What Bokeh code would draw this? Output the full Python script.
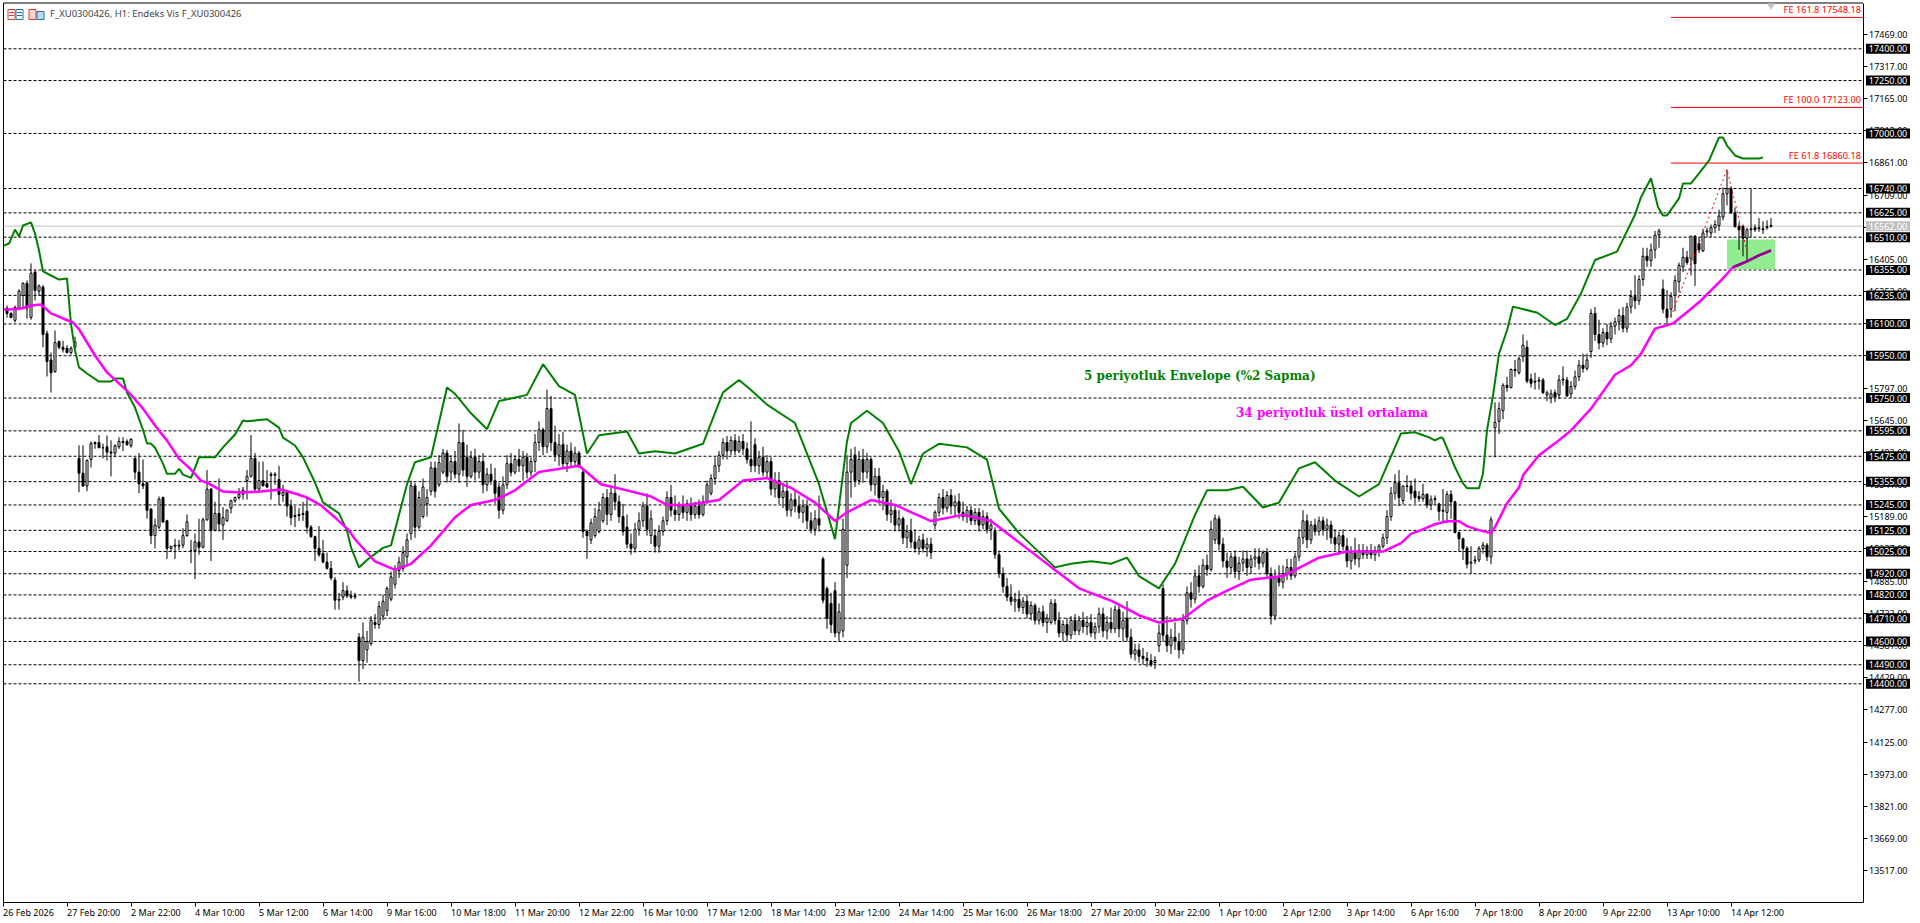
from bokeh.plotting import figure
from bokeh.embed import file_html
from bokeh.resources import INLINE
from bokeh.core.properties import value
from bokeh.models import FixedTicker, NumeralTickFormatter, Label, LabelSet, ColumnDataSource, Range1d, LinearAxis

tick_dates = ["26 Feb 2026","27 Feb 20:00","2 Mar 22:00","4 Mar 10:00","5 Mar 12:00","6 Mar 14:00","9 Mar 16:00","10 Mar 18:00","11 Mar 20:00","12 Mar 22:00","16 Mar 10:00","17 Mar 12:00","18 Mar 14:00","23 Mar 12:00","24 Mar 14:00","25 Mar 16:00","26 Mar 18:00","27 Mar 20:00","30 Mar 22:00","1 Apr 10:00","2 Apr 12:00","3 Apr 14:00","6 Apr 16:00","7 Apr 18:00","8 Apr 20:00","9 Apr 22:00","13 Apr 10:00","14 Apr 12:00"]
price_ticks = [17469,17317,17165,17013,16861,16709,16557,16405,16253,16101,15949,15797,15645,15493,15341,15189,15037,14885,14733,14581,14429,14277,14125,13973,13821,13669,13517]
levels = [17400,17250,17000,16740,16625,16510,16355,16235,16100,15950,15750,15595,15475,15355,15245,15125,15025,14920,14820,14710,14600,14490,14400]
fe_names = ["FE 161.8 17548.18","FE 100.0 17123.00","FE 61.8 16860.18"]
fe_prices = [17548.18,17123.0,16860.18]
current_price = 16562
zigzag_bar = [417,431,436]
zigzag_price = [16135,16830,16442]
zone_bars = [431,443]
zone_prices = [16358,16499]

# candles, one (open, high, low, close) per bar, from bar 1 on
bars_feb = [(16175,16187,16130,16150),(16150,16155,16130,16130),(16117,16187,16107,16178),(16175,16264,16165,16255),(16235,16296,16170,16292),(16292,16306,16125,16175),(16131,16386,16120,16340),(16345,16353,16211,16258),(16255,16287,16235,16280),(16275,16283,15990,16050),(16055,16069,15852,15923),(15930,15965,15776,15870),(15875,16069,15870,16012),(16017,16022,15980,15990),(15990,16020,15965,15980),(15985,16000,15960,15965),(15965,15995,15955,15985),(15990,16040,15985,16015)]
bars_mar_a = [(15465,15527,15305,15395),(15395,15527,15330,15335),(15335,15460,15310,15455),(15460,15545,15422,15535),(15535,15545,15510,15540),(15540,15575,15515,15515),(15515,15535,15465,15515),(15520,15573,15455,15495),(15495,15550,15380,15490),(15490,15530,15470,15525),(15520,15565,15510,15545),(15545,15565,15500,15540),(15545,15555,15525,15530),(15525,15560,15515,15555),(15465,15470,15365,15400),(15400,15490,15300,15345),(15345,15460,15320,15335),(15350,15355,15180,15220),(15225,15230,15060,15100),(15100,15180,15040,15150),(15140,15285,15130,15272),(15280,15285,15160,15165),(15170,15175,14990,15040),(15040,15050,15025,15050),(15050,15085,14990,15055),(15050,15080,15030,15055),(15055,15135,15040,15100),(15100,15200,15095,15165),(15030,15080,14970,15030),(15030,15110,14895,15070),(15070,15180,15010,15045),(15045,15185,15040,15175),(15175,15410,15170,15320),(15320,15325,14980,15125),(15125,15260,15120,15205),(15205,15370,15120,15155),(15150,15235,15080,15185),(15170,15225,15165,15220),(15230,15270,15205,15265),(15265,15285,15255,15280),(15280,15325,15270,15295),(15295,15330,15270,15315),(15360,15410,15270,15380),(15380,15575,15375,15465)]
bars_mar_b = [(15465,15490,15310,15320),(15320,15450,15310,15360),(15360,15450,15335,15335),(15345,15410,15325,15330),(15390,15400,15270,15385),(15385,15400,15340,15390),(15365,15430,15245,15295),(15290,15340,15260,15305),(15305,15310,15190,15240),(15240,15270,15150,15185),(15195,15240,15140,15190),(15195,15230,15170,15200),(15200,15260,15170,15205),(15215,15280,15110,15140),(15140,15150,15090,15095),(15095,15100,14980,15040),(15040,15145,15000,15010),(15015,15080,14970,14975),(14975,15020,14940,14945),(14945,14980,14890,14900),(14890,14905,14750,14795),(14795,14830,14750,14800),(14810,14880,14795,14840),(14840,14865,14805,14815),(14815,14840,14800,14810),(14810,14830,14800,14815),(14620,14640,14410,14510),(14510,14690,14470,14620),(14560,14650,14500,14600),(14590,14720,14580,14700),(14690,14730,14660,14680),(14680,14790,14660,14765),(14720,14820,14700,14790),(14745,14860,14720,14850),(14800,14930,14790,14905),(14870,14960,14850,14935),(14935,15000,14900,14975),(14945,15050,14930,15020),(15000,15110,14960,15080)]
bars_mar_c = [(15110,15360,15080,15335),(15335,15350,15090,15140),(15140,15310,15130,15280),(15190,15370,15180,15330),(15250,15320,15190,15280),(15310,15450,15290,15420),(15420,15450,15280,15310),(15340,15480,15330,15445),(15400,15510,15390,15490),(15490,15505,15350,15380),(15400,15480,15360,15450),(15450,15500,15370,15390),(15390,15630,15350,15540),(15540,15600,15380,15410),(15470,15530,15330,15380),(15380,15500,15370,15470),(15470,15510,15360,15400),(15400,15480,15370,15450),(15450,15490,15300,15340),(15340,15420,15310,15390),(15390,15440,15340,15360),(15360,15420,15250,15300),(15330,15350,15180,15220),(15220,15380,15200,15340),(15340,15480,15320,15440),(15440,15490,15380,15400),(15400,15480,15390,15460),(15460,15510,15400,15430),(15430,15500,15360,15470),(15470,15490,15370,15400),(15400,15470,15380,15450),(15450,15580,15400,15540),(15540,15640,15500,15600),(15600,15610,15480,15520),(15520,15790,15490,15700),(15700,15760,15500,15540),(15540,15620,15450,15480),(15480,15580,15430,15530),(15530,15590,15420,15440),(15440,15530,15400,15500),(15500,15540,15420,15450),(15450,15520,15430,15490),(15490,15500,15420,15430)]
bars_mar_d = [(15400,15410,15090,15120),(15120,15130,14990,15100),(15080,15180,15060,15160),(15100,15230,15090,15190),(15120,15260,15110,15220),(15170,15300,15160,15280),(15280,15320,15150,15200),(15200,15330,15170,15300),(15300,15390,15220,15260),(15260,15290,15160,15190),(15190,15250,15100,15120),(15140,15200,15040,15060),(15060,15110,15010,15040),(15040,15160,15020,15130),(15130,15210,15100,15170),(15170,15260,15140,15240),(15240,15300,15100,15130),(15100,15220,15060,15180),(15100,15130,15020,15050),(15050,15150,15020,15120),(15120,15190,15100,15170),(15170,15310,15150,15280),(15280,15340,15190,15220),(15220,15290,15170,15200),(15200,15260,15170,15240),(15240,15290,15180,15210),(15210,15270,15170,15250),(15250,15280,15170,15200),(15200,15260,15180,15240),(15240,15270,15180,15200),(15200,15290,15190,15260),(15260,15360,15250,15340),(15300,15390,15290,15370),(15370,15470,15340,15430),(15430,15500,15400,15480),(15480,15560,15460,15540),(15540,15570,15460,15500),(15500,15570,15480,15550),(15550,15580,15480,15500),(15500,15570,15490,15545),(15545,15580,15480,15510),(15510,15540,15440,15460)]
bars_mar_e = [(15460,15640,15400,15430),(15530,15560,15400,15430),(15430,15500,15390,15470),(15470,15520,15380,15400),(15400,15480,15370,15450),(15450,15470,15290,15320),(15320,15400,15280,15360),(15360,15400,15250,15280),(15280,15350,15230,15310),(15310,15360,15190,15220),(15220,15300,15190,15270),(15270,15310,15210,15240),(15240,15290,15180,15210),(15210,15270,15160,15240),(15240,15270,15130,15170),(15170,15210,15110,15130),(15130,15220,15100,15180),(15180,15290,15120,15150),(14990,15000,14780,14795),(14850,14860,14660,14710),(14780,14830,14640,14680),(14840,14880,14620,14640),(14640,14780,14600,14740),(14650,15180,14620,15130),(14960,15480,14900,15400),(15400,15510,15280,15460),(15480,15520,15330,15360),(15360,15500,15340,15460),(15460,15510,15350,15400),(15400,15490,15370,15460),(15460,15470,15310,15340),(15340,15420,15290,15380),(15380,15420,15250,15280),(15280,15340,15220,15310),(15310,15320,15170,15200),(15200,15270,15160,15220),(15220,15250,15120,15150),(15150,15220,15120,15180),(15180,15190,15060,15090),(15090,15150,15040,15120),(15120,15180,15040,15070),(15070,15130,15020,15040),(15040,15100,15010,15080),(15080,15110,15020,15040),(15040,15090,15000,15060),(15060,15090,14990,15020)]
bars_mar_f = [(15150,15220,15130,15210),(15210,15300,15190,15280),(15280,15320,15200,15230),(15230,15310,15210,15290),(15290,15320,15200,15240),(15240,15290,15190,15260),(15260,15300,15180,15210),(15210,15260,15170,15190),(15190,15240,15160,15220),(15220,15240,15150,15170),(15170,15230,15150,15210),(15210,15230,15120,15150),(15150,15220,15130,15190),(15190,15210,15110,15130),(15130,15180,15080,15150),(15120,15140,14990,15010),(15010,15030,14900,14920),(14920,14950,14830,14860),(14860,14900,14790,14810),(14810,14870,14770,14790),(14790,14830,14740,14800),(14800,14840,14740,14760),(14760,14810,14730,14790),(14790,14820,14710,14730),(14730,14790,14700,14770),(14770,14780,14680,14700),(14700,14760,14680,14740),(14740,14770,14670,14690),(14690,14730,14640,14710),(14690,14800,14680,14780),(14780,14800,14680,14700),(14700,14740,14620,14640),(14640,14700,14600,14680),(14680,14710,14600,14630),(14630,14720,14610,14700),(14700,14730,14630,14650),(14650,14720,14630,14700),(14700,14740,14640,14670),(14670,14720,14630,14690),(14690,14730,14620,14640),(14640,14690,14610,14670),(14670,14760,14640,14730),(14730,14760,14620,14650),(14650,14720,14610,14690),(14690,14760,14640,14660),(14660,14770,14640,14750),(14750,14780,14620,14660),(14660,14740,14600,14700),(14710,14790,14600,14620),(14620,14660,14520,14540),(14540,14590,14510,14560),(14560,14590,14500,14530),(14530,14570,14490,14520),(14520,14550,14480,14510),(14510,14540,14480,14490),(14500,14530,14470,14510)]
bars_apr_a = [(14580,14680,14550,14640),(14850,14870,14600,14630),(14630,14720,14550,14580),(14580,14660,14540,14620),(14620,14690,14560,14600),(14600,14640,14520,14560),(14560,14730,14540,14700),(14700,14860,14680,14830),(14830,14880,14760,14800),(14800,14940,14780,14910),(14910,14960,14830,14860),(14860,14990,14850,14960),(14960,15010,14910,14940),(14940,15170,14930,15130),(15080,15200,15060,15180),(15180,15195,15030,15060),(15060,15090,14950,14980),(14980,15020,14900,14950),(14950,15020,14920,15000),(15000,15030,14900,14930),(14930,15000,14890,14970),(14970,15030,14930,14990),(14990,15030,14910,14950),(14950,15010,14920,14990),(14990,15040,14950,15000),(15000,15040,14940,14970),(14970,15030,14950,15020),(15020,15040,14900,14920),(14920,14950,14680,14720),(14720,14940,14700,14900),(14900,14960,14860,14880),(14880,14960,14850,14920),(14920,14990,14890,14950),(14950,14990,14890,14910),(14910,15020,14900,15000),(15000,15130,14980,15090),(15090,15220,15060,15170),(15170,15200,15040,15080),(15080,15170,15060,15150),(15150,15180,15100,15120),(15120,15190,15100,15170),(15170,15190,15100,15130),(15130,15180,15080,15150),(15150,15170,15060,15090),(15090,15130,15030,15060),(15060,15120,15010,15100),(15100,15130,15030,15050),(15050,15090,14950,14980),(14980,15050,14940,15020),(15020,15090,14960,14990),(14990,15060,14950,15030),(15030,15060,14990,15010),(15010,15050,14990,15030),(15030,15060,14990,15010),(15010,15050,14980,15030),(15030,15060,15000,15050),(15050,15110,15040,15090),(15090,15220,15060,15190),(15190,15330,15170,15300),(15300,15390,15270,15350),(15350,15410,15240,15280)]
bars_apr_b = [(15266,15340,15247,15333),(15333,15385,15306,15335),(15335,15360,15270,15300),(15310,15370,15250,15280),(15285,15310,15260,15275),(15275,15345,15260,15295),(15295,15300,15230,15245),(15245,15290,15220,15270),(15270,15290,15245,15275),(15250,15255,15170,15215),(15215,15320,15165,15220),(15210,15310,15160,15295),(15295,15315,15180,15260),(15260,15265,15110,15115),(15115,15120,15025,15085),(15085,15090,14985,15040),(15040,15050,14945,14965),(14970,15050,14920,14975),(14980,15005,14965,14985),(14985,15050,14975,15040),(15040,15070,15015,15055),(15055,15065,14980,15000),(15000,15190,14965,15175)]
bars_apr_c = [(15610,15730,15470,15635),(15640,15730,15580,15700),(15690,15820,15650,15810),(15810,15850,15780,15800),(15800,15890,15795,15885),(15885,15930,15850,15880),(15870,15945,15860,15935),(15945,16050,15920,16000),(15990,16022,15820,15830),(15840,15865,15800,15820),(15830,15870,15790,15825),(15830,15850,15790,15835),(15835,15845,15770,15775),(15765,15785,15735,15775),(15750,15790,15725,15770),(15775,15790,15730,15755),(15765,15860,15745,15835),(15835,15900,15810,15840),(15835,15850,15755,15760),(15770,15830,15750,15805),(15805,15880,15790,15850),(15850,15930,15830,15905),(15905,15960,15870,15890),(15890,15960,15880,15930),(15970,16170,15940,16150),(16150,16180,16020,16050),(16050,16120,15980,16010),(16010,16080,15990,16060),(16060,16100,16000,16030),(16030,16110,16010,16090),(16090,16130,16050,16110),(16110,16170,16070,16140),(16140,16180,16060,16080),(16080,16200,16060,16180),(16180,16260,16150,16230),(16230,16330,16170,16210),(16210,16330,16190,16310),(16310,16460,16280,16420),(16420,16460,16370,16400),(16400,16480,16370,16450),(16450,16540,16410,16520),(16520,16550,16460,16540)]
bars_apr_d = [(16265,16310,16150,16170),(16170,16260,16100,16130),(16170,16250,16130,16230),(16235,16330,16160,16306),(16300,16390,16250,16377),(16370,16460,16345,16415),(16415,16445,16380,16390),(16410,16515,16330,16515),(16515,16520,16280,16385),(16480,16510,16435,16450),(16445,16550,16440,16530),(16535,16555,16510,16540),(16530,16570,16510,16555),(16555,16590,16530,16570),(16565,16640,16540,16610),(16605,16745,16590,16715),(16715,16830,16660,16740),(16740,16750,16620,16625),(16625,16650,16555,16560),(16560,16580,16450,16545),(16560,16570,16420,16505),(16505,16555,16400,16545),(16545,16740,16510,16550),(16555,16570,16535,16545),(16550,16600,16535,16555),(16550,16585,16525,16545),(16555,16590,16545,16560),(16565,16600,16555,16562)]

env_bar = [0.25,1.5,3,4,5,7,8,9,10,12,14,16,17,18,19,21,24,27,28,30,31,33,35,36,37,38,40,41,43,44,45,47,48,49,53,55,58,60,61,66,69,70,73,75,78,80,84,86,87,89,91,95,97,101,103,107,111,113,117,121,124,127,131,135,139,143,146,149,156,159,163,168,175,180,184,187,191,198,204,208,211,212,216,220,224,227,230,234,241,246,249,254,263,267,272,277,281,284,289,293,298,301,306,310,315,319,324,328,333,339,344,349.5,353,354.5,356.5,358,359.5,360,362,363,365,366,369,370,371,372.5,374,376,377.5,383.6,388,391,394.4,398,403.5,408,409.5,412,413.75,415,416,419,420,422,424,426.5,429,430,431,433,435,439,440]
env_val = [16471,16480,16546,16513,16565,16580,16527,16447,16348,16329,16310,16315,16100,15975,15895,15866,15828,15828,15842,15842,15776,15705,15600,15535,15535,15515,15440,15392,15392,15416,15388,15373,15420,15470,15470,15517,15578,15644,15640,15650,15610,15563,15526,15470,15351,15257,15205,15124,15045,14950,14985,15042,15054,15343,15447,15470,15800,15770,15678,15603,15736,15748,15765,15910,15806,15765,15488,15574,15592,15488,15499,15488,15534,15777,15835,15788,15719,15632,15343,15083,15545,15632,15690,15632,15499,15343,15488,15534,15517,15459,15227,15112,14950,14967,14979,14967,14996,14909,14851,14967,15198,15314,15314,15331,15233,15256,15418,15447,15360,15285,15343,15583,15588,15578,15564,15550,15564,15559,15470,15423,15347,15324,15324,15394,15597,15762,15960,16069,16182,16153,16095,16124,16240,16402,16442,16616,16699,16788,16651,16613,16613,16693,16764,16764,16811,16872,16981,16981,16943,16896,16882,16882,16887]
ema_bar = [0.25,1.5,4.5,7,9.5,12,15,17.5,19,23,26,31.5,35,38,41,44,46.5,49.5,51.5,55,59.5,64.5,69.5,73,76,79.5,83,86.5,88,93,98,102,107,113,117,123,128,134,144,149.5,156,162,166,171,179,185,191,197,203,208,211,217,223,232,240,247,255,263,269,277,284,289,295,301,306,312,320,329,336,345,349.5,352,354.5,358,361,364,366,369,372,373,376,379,380,384,388,392,397,403,407,409.5,413,417.5,421.5,424.5,429.5,432.5,436,439,442]
ema_val = [16168,16168,16173,16187,16192,16150,16126,16107,16075,15951,15871,15776,15700,15620,15549,15464,15421,15360,15346,15308,15304,15308,15318,15299,15280,15243,15186,15124,15083,14978,14938,14967,15054,15187,15245,15268,15314,15401,15430,15343,15314,15285,15245,15245,15268,15360,15372,15326,15256,15169,15210,15268,15245,15169,15198,15169,15054,14938,14851,14793,14724,14689,14707,14793,14840,14892,14909,14996,15025,15025,15065,15108,15126,15154,15168,15168,15145,15126,15112,15140,15253,15328,15385,15480,15536,15597,15700,15860,15905,15960,16078,16102,16164,16211,16306,16368,16396,16424,16447]

candles = bars_feb+bars_mar_a+bars_mar_b+bars_mar_c+bars_mar_d+bars_mar_e+bars_mar_f+bars_apr_a+bars_apr_b+bars_apr_c+bars_apr_d

FONT="Noto Sans"
def xd(px): return (px-2)/4
def yd(py): return 17400-(py-48.3)/0.21167

X0,X1,YB,YT=xd(2.5),xd(1862),yd(902),yd(2.5)
p = figure(width=1920,height=923,output_backend="svg",toolbar_location=None,
  x_range=Range1d(xd(-0.5),xd(1919.5)),y_range=Range1d(yd(923),yd(0)),
  min_border_left=0,min_border_top=0,min_border_right=0,min_border_bottom=0,
  x_axis_location=None,y_axis_location=None)
p.grid.visible=False
p.outline_line_color=None
p.background_fill_color="white"; p.border_fill_color="white"

# frame and axes
p.line([X0,X0],[YB,YT],line_color="black",line_width=1)
p.line([X0,X1],[YT,YT],line_color="black",line_width=1)
ax_r=LinearAxis(fixed_location=X1,bounds=(YB,YT),ticker=FixedTicker(ticks=price_ticks),formatter=NumeralTickFormatter(format="0.00"),
   major_tick_in=0,major_tick_out=4,minor_tick_line_color=None,major_label_standoff=2,axis_line_color="black",
   major_label_text_font=FONT,major_label_text_font_size="9px",major_label_text_color="black")
p.add_layout(ax_r,"right")
tick_bars=[16*i for i in range(len(tick_dates))]
ax_b=LinearAxis(fixed_location=YB,bounds=(X0,X1),ticker=FixedTicker(ticks=tick_bars),major_tick_in=0,major_tick_out=4,minor_tick_line_color=None,
   major_label_text_color=None,axis_line_color="black")
p.add_layout(ax_b,"below")
src=ColumnDataSource(dict(x=tick_bars,y=[yd(912)]*len(tick_bars),t=tick_dates))
p.add_layout(LabelSet(x="x",y="y",text="t",source=src,text_font=value(FONT),text_font_size=value("9px"),text_baseline="middle",text_color="black"))

# levels
for lv in levels:
    p.line([X0,X1],[lv,lv],line_color="black",line_width=1,line_dash=[3,2])
p.line([X0,X1],[current_price]*2,line_color="#c0c0c0",line_width=1)
for v in fe_prices:
    p.line([xd(1670),X1],[v,v],line_color="red",line_width=1)
p.quad(left=zone_bars[0],right=zone_bars[1],bottom=zone_prices[0],top=zone_prices[1],fill_color="#90ee90",line_color=None)

# candles
idx=list(range(1,len(candles)+1))
o=[c[0] for c in candles]; h=[c[1] for c in candles]; l=[c[2] for c in candles]; c_=[c[3] for c in candles]
p.segment(idx,h,idx,l,line_color="black",line_width=1)
fills=["white" if c>=a else "black" for a,c in zip(o,c_)]
p.vbar(x=idx,top=[max(a,c) for a,c in zip(o,c_)],bottom=[min(a,c) for a,c in zip(o,c_)],width=0.5,fill_color=fills,line_color="black",line_width=1)

p.line(env_bar,env_val,line_color="#008000",line_width=2)
p.line(ema_bar,ema_val,line_color="#ff00ff",line_width=2.5)
k=[i for i,b in enumerate(ema_bar) if b>=432]
p.line([ema_bar[i] for i in k],[ema_val[i] for i in k],line_color="#900090",line_width=2.5)
p.line(zigzag_bar,zigzag_price,line_color="red",line_width=1,line_dash=[2,3])

# boxes over the axis
xm=xd(1887)
p.rect(x=[xm]*len(levels),y=levels,width=44,height=10,width_units="screen",height_units="screen",fill_color="black",line_color=None,level="overlay")
p.rect(x=[xm],y=[current_price],width=44,height=10,width_units="screen",height_units="screen",fill_color="#c0c0c0",line_color=None,level="overlay")
p.text(x=[xm]*(len(levels)+1),y=levels+[current_price],text=[f"{v}.00" for v in levels+[current_price]],text_color="white",text_font=value(FONT),text_font_size=value("9px"),text_align="center",text_baseline="middle",level="overlay")

for n,v in zip(fe_names,fe_prices):
    p.add_layout(Label(x=xd(1860),y=v,text=n,text_color="red",text_font=FONT,text_font_size="9.2px",text_align="right",text_baseline="alphabetic",y_offset=8))
p.add_layout(Label(x=xd(49),y=yd(13),text="F_XU0300426, H1:  Endeks Vis F_XU0300426",text_font=FONT,text_font_size="9.5px",text_baseline="middle"))
p.add_layout(Label(x=xd(1083),y=yd(375),text="5 periyotluk Envelope (%2 Sapma)",text_font="DejaVu Serif",text_font_size="12px",text_font_style="bold",text_color="#008000",text_baseline="middle"))
p.add_layout(Label(x=xd(1235),y=yd(412),text="34 periyotluk üstel ortalama",text_font="DejaVu Serif",text_font_size="12px",text_font_style="bold",text_color="#ff00ff",text_baseline="middle"))

# toolbar icons and the shift marker
p.quad(left=[xd(7),xd(15)],right=[xd(14),xd(22)],bottom=[yd(19)]*2,top=[yd(9)]*2,fill_color="white",line_color=["#e03c31","#1f6fb2"],line_width=1)
p.segment([xd(8),xd(8),xd(16),xd(16)],[yd(12),yd(15),yd(12),yd(15)],[xd(13),xd(13),xd(21),xd(21)],[yd(12),yd(15),yd(12),yd(15)],line_color=["#e03c31","#e03c31","#1f6fb2","#1f6fb2"],line_width=1)
p.quad(left=[xd(28),xd(36)],right=[xd(35),xd(43)],bottom=[yd(19)]*2,top=[yd(9),yd(11)],fill_color=["#fbd5c9","#bcdcf4"],line_color=["#e03c31","#1f6fb2"],line_width=1)
p.scatter([xd(1770)],[yd(5)],marker="inverted_triangle",size=8,fill_color="#c0c0c0",line_color=None)
open("out.html","w").write(file_html(p,INLINE))
